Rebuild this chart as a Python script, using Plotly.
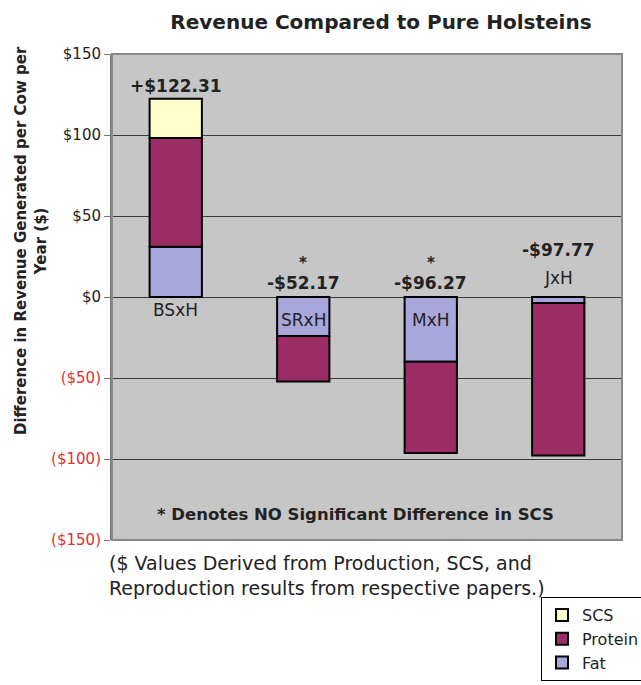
import plotly.graph_objects as go

categories = ["BSxH", "SRxH", "MxH", "JxH"]
fat = [31.0, -24.0, -40.0, -3.7]
protein = [67.2, -28.17, -56.27, -94.07]
scs = [24.11, 0, 0, 0]
totals_text = ["+$122.31", "-$52.17", "-$96.27", "-$97.77"]
sig_star = ["", "*", "*", ""]
tick_vals = [150, 100, 50, 0, -50, -100, -150]
tick_text = ["$150", "$100", "$50", "$0", "($50)", "($100)", "($150)"]
footnote_lines = ["($ Values Derived from Production, SCS, and", "Reproduction results from respective papers.)"]

COL_FAT = "#a9a6dc"
COL_PROT = "#9b2d64"
COL_SCS = "#ffffcc"
FONT = "DejaVu Sans, Arial"
W, H = 641, 685
L, T = 112, 54
R = W - 622
B = H - 540
PW, PH = W - L - R, H - T - B

def px_x(x):  # screen px -> paper
    return (x - L) / PW

def px_y(y):
    return (H - B - y) / PH

fig = go.Figure()
for name, vals, col in [("Fat", fat, COL_FAT), ("Protein", protein, COL_PROT), ("SCS", scs, COL_SCS)]:
    fig.add_trace(go.Bar(x=categories, y=vals, name=name,
                         marker=dict(color=col, line=dict(color="black", width=2)), width=0.41))

tt = [t if v >= 0 else f"<span style='color:#e03030'>{t}</span>" for t, v in zip(tick_text, tick_vals)]

fig.update_layout(
    width=W, height=H,
    margin=dict(l=L, r=R, t=T, b=B, autoexpand=False),
    barmode="relative",
    paper_bgcolor="white",
    plot_bgcolor="#c6c6c6",
    font=dict(family=FONT, color="#222"),
    title=dict(text="<b>Revenue Compared to Pure Holsteins</b>", x=381 / W, xanchor="center",
               y=1 - 22 / H, yanchor="middle", font=dict(size=20, color="#222")),
    showlegend=True,
    legend=dict(x=px_x(541), y=px_y(597), xanchor="left", yanchor="top", traceorder="reversed",
                bordercolor="black", borderwidth=1, bgcolor="white", font=dict(size=16, color="#222"),
                itemwidth=30, tracegroupgap=2),
    xaxis=dict(showticklabels=False, showgrid=False, zeroline=False, showline=False, ticks=""),
    yaxis=dict(range=[-150, 150], tickvals=tick_vals, ticktext=tt, tickfont=dict(size=15, color="#222"),
               showgrid=True, gridcolor="#3a3a3a", gridwidth=1, zeroline=False,
               showline=True, linecolor="#777", linewidth=2, ticks="outside", ticklen=6, tickcolor="#777"),
)
fig.add_shape(type="rect", xref="paper", yref="paper", x0=0, x1=1, y0=0, y1=1, line=dict(color="#888", width=2))

ann = []
ann_y = [130.2, 8.5, 8.5, 29]
for c, t, y in zip(categories, totals_text, ann_y):
    ann.append(dict(x=c, y=y, text=f"<b>{t}</b>", showarrow=False, font=dict(size=17, color="#222"), yanchor="middle"))
for c, s in zip(categories, sig_star):
    if s:
        ann.append(dict(x=c, y=21, text=f"<b>{s}</b>", showarrow=False, font=dict(size=15, color="#222"), yanchor="middle"))
lab_y = [-8, -14.5, -14.5, 11.7]
for c, y in zip(categories, lab_y):
    ann.append(dict(x=c, y=y, text=c, showarrow=False, font=dict(size=17, color="#222"), yanchor="middle"))
ann.append(dict(x=px_x(355), xref="paper", y=-134.5, text="<b>* Denotes NO Significant Difference in SCS</b>",
                showarrow=False, font=dict(size=16.5, color="#222")))
for line, yy in zip(footnote_lines, [563, 588]):
    ann.append(dict(x=px_x(107), xref="paper", y=px_y(yy), yref="paper", xanchor="left", yanchor="middle",
                    text=line, showarrow=False, font=dict(size=19, color="#222")))
ann.append(dict(x=px_x(31), xref="paper", y=px_y(241), yref="paper", textangle=-90, xanchor="center",
                yanchor="middle", text="<b>Difference in Revenue Generated per Cow per<br>Year ($)</b>",
                showarrow=False, font=dict(size=15, color="#222")))
fig.update_layout(annotations=ann)
fig.write_html("out.html", config={"displayModeBar": False},
               post_script="document.body.style.margin='0';document.body.style.overflow='hidden';")
